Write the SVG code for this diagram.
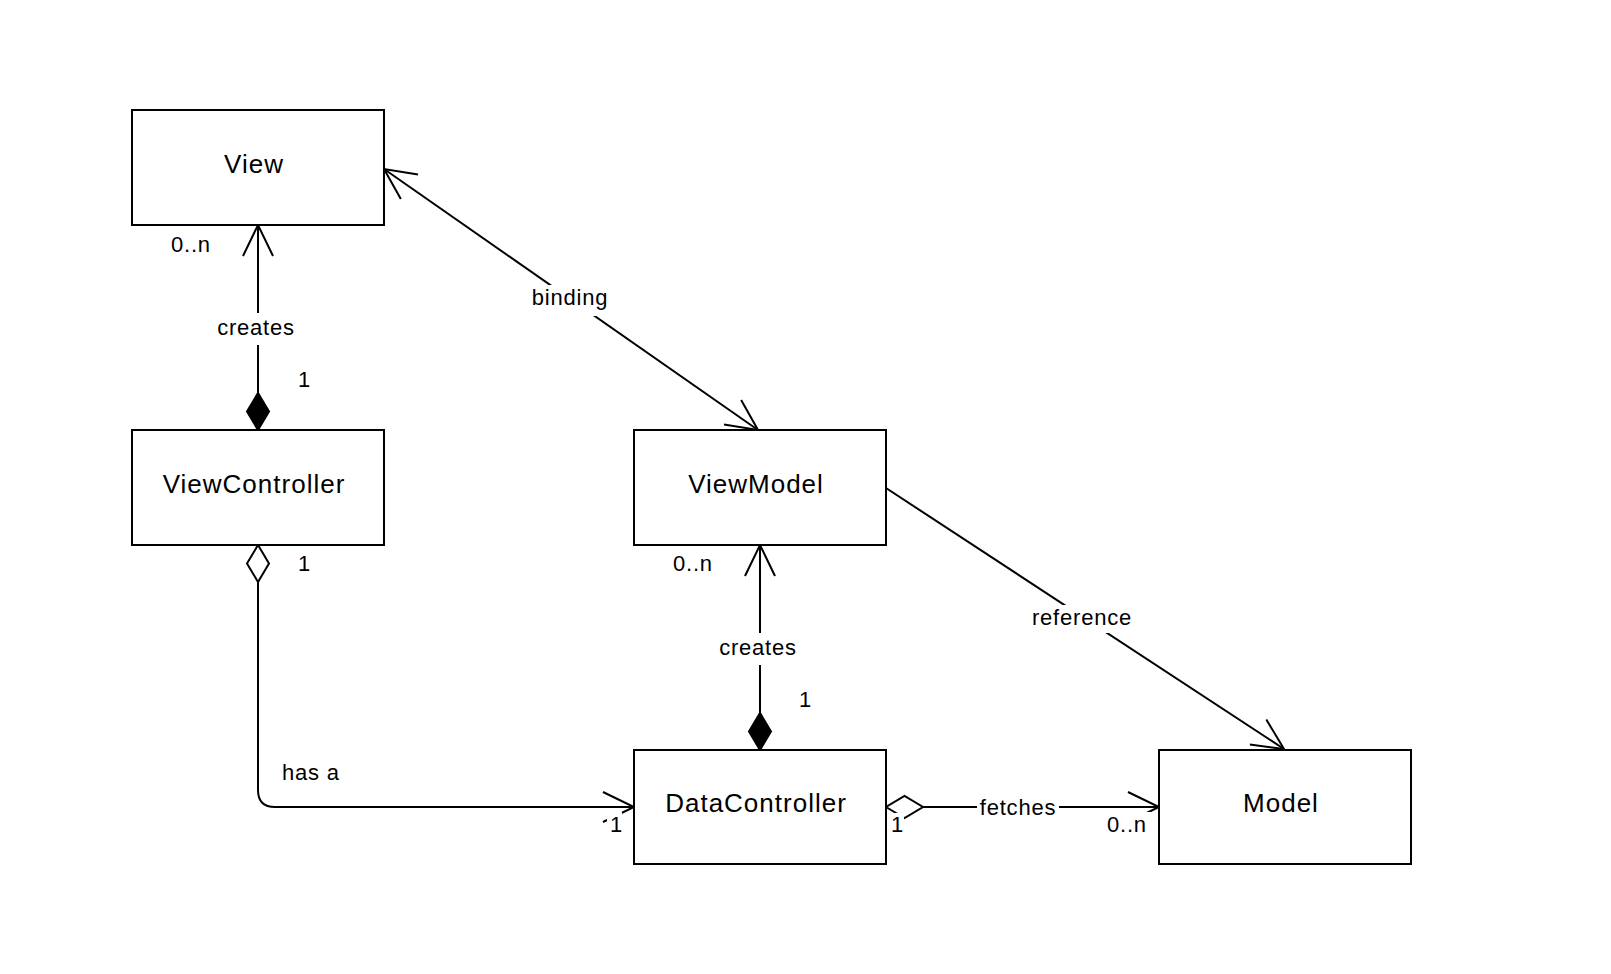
<svg xmlns="http://www.w3.org/2000/svg" width="1611" height="974" viewBox="0 0 1611 974">
<style>
  .box { fill: #ffffff; stroke: #000000; stroke-width: 2; }
  .ntxt { font-family: "Liberation Sans", Arial, sans-serif; font-size: 26px; letter-spacing: 1px; text-anchor: middle; fill: #000000; }
  .ltxt { font-family: "Liberation Sans", Arial, sans-serif; font-size: 22px; letter-spacing: 0.8px; fill: #000000; }
  .mid { text-anchor: middle; }
  .edge { fill: none; stroke: #000000; stroke-width: 2; }
  .bg { fill: #ffffff; stroke: none; }
</style>
<defs>
  <marker id="openArrow" markerUnits="userSpaceOnUse" markerWidth="40" markerHeight="40" refX="0" refY="0" orient="auto-start-reverse" overflow="visible">
    <path d="M -31,-15 L 0,0 L -31,15" fill="none" stroke="#000000" stroke-width="2"/>
  </marker>
  <marker id="diamondFilled" markerUnits="userSpaceOnUse" markerWidth="40" markerHeight="40" refX="0" refY="0" orient="auto-start-reverse" overflow="visible">
    <path d="M 0,0 L -18.5,-11 L -37,0 L -18.5,11 Z" fill="#000000" stroke="#000000" stroke-width="2"/>
  </marker>
  <marker id="diamondHollow" markerUnits="userSpaceOnUse" markerWidth="40" markerHeight="40" refX="0" refY="0" orient="auto-start-reverse" overflow="visible">
    <path d="M 0,0 L -18.5,-11 L -37,0 L -18.5,11 Z" fill="#ffffff" stroke="#000000" stroke-width="2"/>
  </marker>
</defs>
<rect width="1611" height="974" fill="#ffffff"/>

<g id="connectors">
  <!-- ViewController creates View -->
  <path class="edge" d="M 258,430 L 258,225" marker-start="url(#diamondFilled)" marker-end="url(#openArrow)"/>
  <rect class="bg" x="212" y="313" width="88" height="32"/>
  <text class="ltxt mid" x="256" y="335">creates</text>
  <text class="ltxt" x="171" y="252">0..n</text>
  <text class="ltxt" x="298" y="387">1</text>

  <!-- View binding ViewModel -->
  <path class="edge" d="M 384,169 L 758,430" marker-start="url(#openArrow)" marker-end="url(#openArrow)"/>
  <rect class="bg" x="529" y="285" width="82" height="31"/>
  <text class="ltxt mid" x="570" y="305">binding</text>

  <!-- ViewModel reference Model -->
  <path class="edge" d="M 886,488 L 1284,749" marker-end="url(#openArrow)"/>
  <rect class="bg" x="1027" y="605" width="111" height="28"/>
  <text class="ltxt mid" x="1082" y="625">reference</text>

  <!-- DataController creates ViewModel -->
  <path class="edge" d="M 760,750 L 760,545" marker-start="url(#diamondFilled)" marker-end="url(#openArrow)"/>
  <rect class="bg" x="714" y="633" width="88" height="32"/>
  <text class="ltxt mid" x="758" y="655">creates</text>
  <text class="ltxt" x="673" y="571">0..n</text>
  <text class="ltxt" x="799" y="707">1</text>

  <!-- ViewController has a DataController -->
  <path class="edge" d="M 258,545 L 258,790 Q 258,807 275,807 L 634,807" marker-start="url(#diamondHollow)" marker-end="url(#openArrow)"/>
  <text class="ltxt" x="298" y="571">1</text>
  <text class="ltxt" x="282" y="780">has a</text>
  <rect class="bg" x="607" y="812" width="15" height="24"/>
  <text class="ltxt" x="610" y="832">1</text>

  <!-- DataController fetches Model -->
  <path class="edge" d="M 886,807 L 1159,807" marker-start="url(#diamondHollow)" marker-end="url(#openArrow)"/>
  <rect class="bg" x="977" y="795" width="82" height="25"/>
  <text class="ltxt mid" x="1018" y="815">fetches</text>
  <rect class="bg" x="890" y="813" width="14" height="23"/>
  <text class="ltxt" x="891" y="832">1</text>
  <rect class="bg" x="1105" y="812" width="46" height="25"/>
  <text class="ltxt" x="1107" y="832">0..n</text>
</g>

<g id="node-view">
  <rect class="box" x="132" y="110" width="252" height="115"/>
  <text class="ntxt" x="254" y="173">View</text>
</g>
<g id="node-viewcontroller">
  <rect class="box" x="132" y="430" width="252" height="115"/>
  <text class="ntxt" x="254" y="493">ViewController</text>
</g>
<g id="node-viewmodel">
  <rect class="box" x="634" y="430" width="252" height="115"/>
  <text class="ntxt" x="756" y="493">ViewModel</text>
</g>
<g id="node-datacontroller">
  <rect class="box" x="634" y="750" width="252" height="114"/>
  <text class="ntxt" x="756" y="812">DataController</text>
</g>
<g id="node-model">
  <rect class="box" x="1159" y="750" width="252" height="114"/>
  <text class="ntxt" x="1281" y="812">Model</text>
</g>
</svg>
